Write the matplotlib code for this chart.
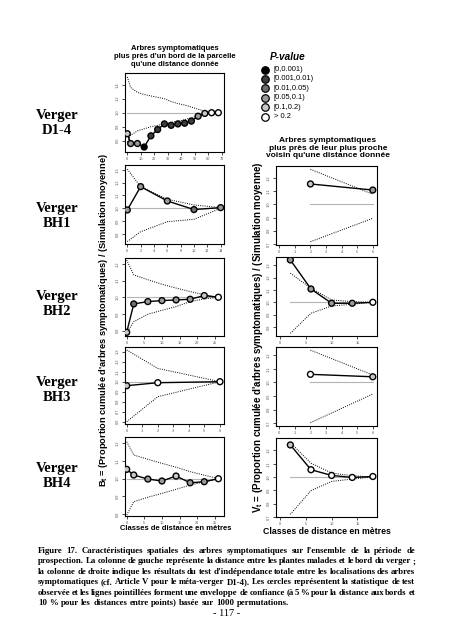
import matplotlib
matplotlib.use('Agg')
import matplotlib.pyplot as plt

plt.rcParams['font.family'] = ['Liberation Sans', 'DejaVu Sans']
plt.rcParams['mathtext.fontset'] = 'custom'
plt.rcParams['mathtext.rm'] = 'Liberation Sans:bold'
plt.rcParams['mathtext.it'] = 'Liberation Sans:bold'
plt.rcParams['mathtext.bf'] = 'Liberation Sans:bold'

# classes de p-value (0 = [0,0.001) ... 5 = > 0.2)
pval_labels = ['[0,0.001)', '[0.001,0.01)', '[0.01,0.05)', '[0.05,0.1)', '[0.1,0.2)', '> 0.2']
pval_greys = ['#000000', '#3c3c3c', '#6e6e6e', '#9a9a9a', '#c8c8c8', '#ffffff']

# --- colonne de gauche : distance aux bords ---
d14_x = [0, 2.5, 7.5, 12.5, 17.5, 22.5, 27.5, 32.5, 37.5, 42.5, 47.5, 52.5, 57.5, 62.5, 67.5]
d14_obs = [0.70, 0.56, 0.56, 0.51, 0.67, 0.76, 0.84, 0.82, 0.84, 0.85, 0.88, 0.95, 0.99, 1.0, 1.0]
d14_up = [1.51, 1.36, 1.29, 1.26, 1.24, 1.22, 1.20, 1.16, 1.13, 1.11, 1.08, 1.05, 1.02, 1.005, 1.0]
d14_lo = [0.58, 0.68, 0.74, 0.77, 0.80, 0.82, 0.84, 0.86, 0.88, 0.90, 0.93, 0.95, 0.97, 0.99, 1.0]
d14_cls = [4, 3, 3, 0, 1, 1, 1, 1, 1, 1, 1, 3, 4, 5, 5]

bh1_x = [0, 2, 6, 10, 14]
bh1_obs = [0.987, 1.169, 1.057, 0.99, 1.005]
bh1_up = [1.305, 1.169, 1.07, 1.026, 1.005]
bh1_lo = [0.74, 0.817, 0.895, 0.914, 1.0]
bh1_cls = [3, 3, 3, 2, 3]

bh2_x = [0, 2, 6, 10, 14, 18, 22, 26]
bh2_obs = [0.79, 0.96, 0.974, 0.98, 0.984, 0.988, 1.01, 1.0]
bh2_up = [1.223, 1.134, 1.105, 1.078, 1.055, 1.034, 1.015, 1.0]
bh2_lo = [0.784, 0.854, 0.898, 0.922, 0.944, 0.974, 0.99, 1.0]
bh2_cls = [4, 2, 3, 3, 3, 3, 4, 5]

bh3_x = [0, 2, 6]
bh3_obs = [0.96, 0.99, 1.0]
bh3_up = [1.317, 1.133, 1.0]
bh3_lo = [0.6, 0.85, 1.0]
bh3_cls = [4, 5, 5]

bh4_x = [0, 2, 6, 10, 14, 18, 22, 26]
bh4_obs = [1.053, 1.021, 0.998, 0.987, 1.015, 0.977, 0.983, 1.0]
bh4_up = [1.209, 1.134, 1.11, 1.087, 1.065, 1.04, 1.02, 1.0]
bh4_lo = [0.795, 0.87, 0.895, 0.917, 0.94, 0.964, 0.982, 1.0]
bh4_cls = [4, 4, 3, 3, 4, 3, 3, 5]

# --- colonne de droite : plus proche voisin ---
v1_x = [2, 6]
v1_obs = [1.154, 1.108]
v1_up = [1.265, 1.076]
v1_lo = [0.717, 0.894]
v1_cls = [4, 3]

v2_x = [2, 6, 10, 14, 18]
v2_obs = [1.344, 1.108, 0.992, 0.992, 1.0]
v2_up = [1.236, 1.114, 1.019, 1.005, 1.0]
v2_lo = [0.748, 0.911, 0.970, 0.984, 1.0]
v2_cls = [3, 3, 3, 3, 5]

v3_x = [2, 6]
v3_obs = [1.059, 1.041]
v3_up = [1.237, 1.054]
v3_lo = [0.703, 0.914]
v3_cls = [5, 4]

v4_x = [2, 6, 10, 14, 18]
v4_obs = [1.241, 1.055, 1.012, 0.997, 1.004]
v4_up = [1.258, 1.104, 1.03, 1.01, 1.0]
v4_lo = [0.72, 0.898, 0.967, 0.985, 1.0]
v4_cls = [4, 5, 5, 5, 5]

verger_names = ['Verger\nD1-4', 'Verger\nBH1', 'Verger\nBH2', 'Verger\nBH3', 'Verger\nBH4']

caption_lines = [
    "Figure 17. Caractéristiques spatiales des arbres symptomatiques sur l’ensemble de la période de",
    "prospection. La colonne de gauche représente la distance entre les plantes malades et le bord du verger ;",
    "la colonne de droite indique les résultats du test d’indépendance totale entre les localisations des arbres",
    "symptomatiques (cf. Article V pour le méta-verger D1-4). Les cercles représentent la statistique de test",
    "observée et les lignes pointillées forment une enveloppe de confiance (à 5 % pour la distance aux bords et",
    "10 % pour les distances entre points) basée sur 1000 permutations.",
]

W, H = 452, 640
fig = plt.figure(figsize=(W / 100, H / 100), dpi=100)


def rect(x0, y0, x1, y1):
    return [x0 / W, 1 - y1 / H, (x1 - x0) / W, (y1 - y0) / H]


def panel(r, xs, obs, up, lo, cls, xlim, ylim, xticks, yticks):
    ax = fig.add_axes(rect(*r))
    ax.plot([xs[0], xs[-1]], [1, 1], color='#b4b4b4', lw=0.8, zorder=1)
    ax.plot(xs, up, color='k', lw=0.7, ls=(0, (1, 1.3)), zorder=2)
    ax.plot(xs, lo, color='k', lw=0.7, ls=(0, (1, 1.3)), zorder=2)
    ax.plot(xs, obs, color='k', lw=1.0, zorder=3)
    ax.scatter(xs, obs, s=18, c=[pval_greys[c] for c in cls], edgecolors='k',
               linewidths=1.0, zorder=4)
    ax.set_xlim(xlim)
    ax.set_ylim(ylim)
    ax.set_xticks(xticks)
    ax.set_yticks(yticks)
    ax.set_xticklabels([f'{t:g}' for t in xticks], fontsize=2.8, color='#555555')
    ax.set_yticklabels([f'{t:.1f}' for t in yticks], fontsize=2.8, color='#555555',
                       rotation=90, va='center')
    ax.tick_params(length=2, width=0.5, pad=1.5)
    for s in ax.spines.values():
        s.set_linewidth(0.8)
    return ax


# positions en pixels (x0, y0, x1, y1) et limites
panel((125, 73, 224, 152), d14_x, d14_obs, d14_up, d14_lo, d14_cls,
      (-1.7, 71.7), (0.439, 1.567), range(0, 71, 10), [0.6, 0.8, 1.0, 1.2, 1.4])
panel((125, 165, 224, 244), bh1_x, bh1_obs, bh1_up, bh1_lo, bh1_cls,
      (-0.345, 14.5), (0.721, 1.338), range(0, 15, 2), [0.8, 0.9, 1.0, 1.1, 1.2, 1.3])
panel((125, 258, 224, 336), bh2_x, bh2_obs, bh2_up, bh2_lo, bh2_cls,
      (-0.48, 27.6), (0.768, 1.235), range(0, 26, 5), [0.8, 0.9, 1.0, 1.1, 1.2])
panel((125, 347, 224, 424), bh3_x, bh3_obs, bh3_up, bh3_lo, bh3_cls,
      (-0.11, 6.26), (0.577, 1.347), range(0, 7), [0.6, 0.7, 0.8, 0.9, 1.0, 1.1, 1.2, 1.3])
panel((125, 437, 224, 516), bh4_x, bh4_obs, bh4_up, bh4_lo, bh4_cls,
      (-0.48, 27.6), (0.789, 1.236), range(0, 26, 5), [0.8, 0.9, 1.0, 1.1, 1.2])

panel((276, 166, 377, 245), v1_x, v1_obs, v1_up, v1_lo, v1_cls,
      (-0.21, 6.27), (0.692, 1.29), range(0, 7), [0.7, 0.8, 0.9, 1.0, 1.1, 1.2])
panel((276, 257, 377, 336), v2_x, v2_obs, v2_up, v2_lo, v2_cls,
      (-0.78, 18.8), (0.726, 1.368), range(0, 16, 5), [0.8, 0.9, 1.0, 1.1, 1.2, 1.3])
panel((276, 347, 377, 426), v3_x, v3_obs, v3_up, v3_lo, v3_cls,
      (-0.21, 6.27), (0.679, 1.26), range(0, 7), [0.7, 0.8, 0.9, 1.0, 1.1, 1.2])
panel((276, 438, 377, 517), v4_x, v4_obs, v4_up, v4_lo, v4_cls,
      (-0.78, 18.8), (0.703, 1.293), range(0, 16, 5), [0.7, 0.8, 0.9, 1.0, 1.1, 1.2])

# textes des colonnes
fig.text(176 / W, 1 - 528 / H, 'Classes de distance en mètres', fontsize=5.5,
         fontweight='bold', ha='center', va='center')
fig.text(327 / W, 1 - 531 / H, 'Classes de distance en mètres', fontsize=6.3,
         fontweight='bold', ha='center', va='center')

fig.text(175 / W, 1 - 57 / H,
         "Arbres symptomatiques\nplus près d'un bord de la parcelle\nqu'une distance donnée",
         fontsize=5.5, fontweight='bold', ha='center', va='center', linespacing=1.2)
fig.text(328 / W, 1 - 148 / H,
         "Arbres symptomatiques\nplus près de leur plus proche\nvoisin qu'une distance donnée",
         fontsize=6.0, fontweight='bold', ha='center', va='center', linespacing=1.1)

fig.text(104 / W, 1 - 320 / H,
         "B$_t$ = (Proportion cumulée d'arbres symptomatiques) / (Simulation moyenne)",
         rotation=90, fontsize=6.7, fontweight='bold', ha='center', va='center')
fig.text(258 / W, 1 - 337 / H,
         "V$_t$ = (Proportion cumulée d'arbres symptomatiques) / (Simulation moyenne)",
         rotation=90, fontsize=7.0, fontweight='bold', ha='center', va='center')

# legende P-value
fig.text(270 / W, 1 - 57 / H, 'P-value', fontsize=7.2, fontweight='bold', style='italic',
         va='center')
for i, (lab, g) in enumerate(zip(pval_labels, pval_greys)):
    yy = 1 - (69.5 + i * 9.4) / H
    fig.lines.append(plt.Line2D([265 / W], [yy], marker='o', ms=5.4, mfc=g, mec='k', mew=0.9,
                                transform=fig.transFigure))
    fig.text(274 / W, yy, lab, fontsize=5.4, va='center')

for i, name in enumerate(verger_names):
    yc = [123, 216, 304, 390, 476][i]
    fig.text(57 / W, 1 - yc / H, name, family='Liberation Serif', fontsize=10.5,
             fontweight='bold', ha='center', va='center', linespacing=1.2)

# legende de la figure, justifiee
rend = fig.canvas.get_renderer()
cap_x0, cap_x1 = 38, 415
cap_fs = 6.35
for i, line in enumerate(caption_lines):
    yb = 1 - (553 + i * 10.4) / H
    words = line.split(' ')
    ts = [fig.text(0, yb, w, family='Liberation Serif', fontsize=cap_fs, fontweight='bold',
                   va='baseline') for w in words]
    widths = [t.get_window_extent(rend).width for t in ts]
    if i == len(caption_lines) - 1:
        gap = 0.27 * cap_fs * 100 / 72
    else:
        gap = (cap_x1 - cap_x0 - sum(widths)) / (len(words) - 1)
    x = cap_x0
    for t, w in zip(ts, widths):
        t.set_x(x / W)
        x += w + gap

fig.text(227 / W, 1 - 614 / H, '- 117 -', family='Liberation Serif', fontsize=7.5,
         ha='center', va='center')

fig.savefig('out.png', dpi=100)
